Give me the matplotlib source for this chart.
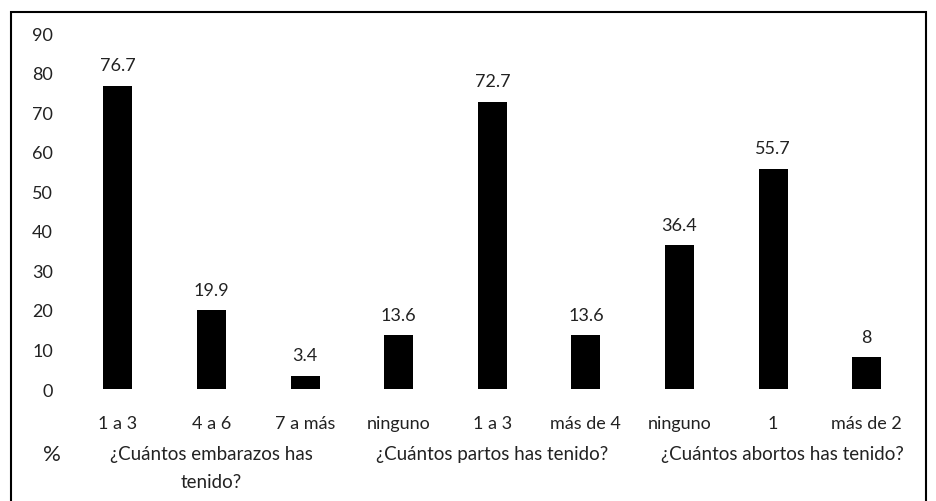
import matplotlib.pyplot as plt
from matplotlib.patches import Rectangle
from matplotlib.transforms import blended_transform_factory

plt.rcParams['font.family'] = ['Lato', 'DejaVu Sans']

categories = ['1 a 3', '4 a 6', '7 a más', 'ninguno', '1 a 3', 'más de 4',
              'ninguno', '1', 'más de 2']
values = [76.7, 19.9, 3.4, 13.6, 72.7, 13.6, 36.4, 55.7, 8]
value_labels = ['76.7', '19.9', '3.4', '13.6', '72.7', '13.6', '36.4', '55.7', '8']
groups = ['¿Cuántos embarazos has\ntenido?', '¿Cuántos partos has tenido?',
          '¿Cuántos abortos has tenido?']
group_centers = [1, 4, 7.1]
yticks = [0, 10, 20, 30, 40, 50, 60, 70, 80, 90]

fig = plt.figure(figsize=(9.36, 5.02), dpi=100)
ax = fig.add_axes([0.076, 0.223, 0.9, 0.709])

x = list(range(len(values)))
ax.bar(x, values, width=0.31, color='black')
for xi, v, lab in zip(x, values, value_labels):
    ax.annotate(lab, (xi, v), xytext=(0, 9), textcoords='offset points',
                ha='center', va='bottom', fontsize=13, color='#222222')

ax.set_xlim(-0.5, 8.5)
ax.set_ylim(0, 90)
ax.set_yticks(yticks)
ax.set_xticks(x)
ax.set_xticklabels(categories, fontsize=13)
ax.tick_params(length=0, labelsize=13, colors='#222222')
ax.tick_params(axis='y', pad=13)
ax.tick_params(axis='x', pad=19)
for s in ax.spines.values():
    s.set_visible(False)

# group captions under the category labels
trans = blended_transform_factory(ax.transData, fig.transFigure)
for gc, g in zip(group_centers, groups):
    ax.text(gc, 1 - 446 / 502, g, transform=trans, ha='center', va='top',
            fontsize=13.5, linespacing=1.8, color='#222222')
fig.text(52 / 936, 1 - 455 / 502, '%', ha='center', va='center', fontsize=16,
         color='#222222')

# outer frame of the chart area
fig.patches.append(Rectangle((11 / 936, -0.1), 915 / 936, 1.1 - 13 / 502,
                             transform=fig.transFigure, fill=False,
                             edgecolor='black', linewidth=1.5))

plt.savefig('out.png', dpi=100)
